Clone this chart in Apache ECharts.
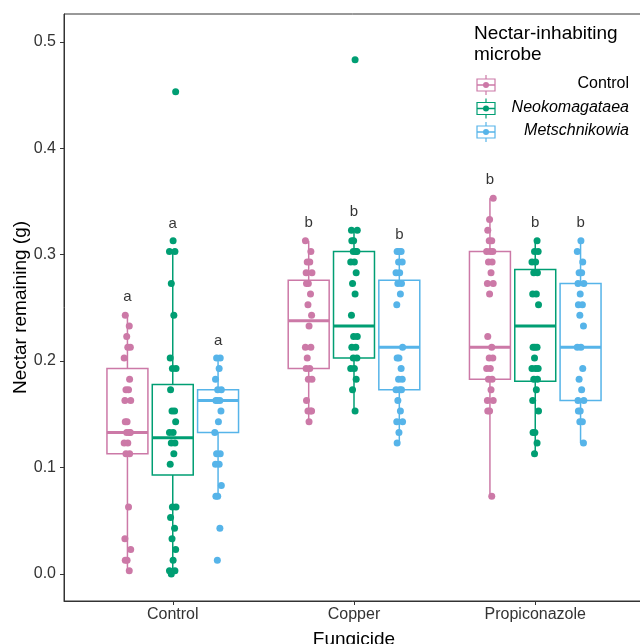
<!DOCTYPE html>
<html>
<head>
<meta charset="utf-8">
<title>Nectar remaining</title>
<script src="https://cdn.jsdelivr.net/npm/echarts@6/dist/echarts.min.js"></script>
<style>
  html, body { margin: 0; padding: 0; background: #fff; }
  #chart { width: 640px; height: 644px; }
</style>
</head>
<body>
<div id="chart"></div>
<script>
// 分类
const fungicides = ['Control', 'Copper', 'Propiconazole'];
const microbes = ['Control', 'Neokomagataea', 'Metschnikowia'];
const colors = ['#CC79A7', '#009E73', '#56B4E9'];
const yTicks = [0, 0.1, 0.2, 0.3, 0.4, 0.5];

// 观测值（按 fungicide x microbe）
const ctrlCtrl = [0.243, 0.233, 0.223, 0.213, 0.213, 0.203, 0.183, 0.173, 0.173, 0.163, 0.163, 0.143, 0.143, 0.133, 0.133, 0.133, 0.123, 0.123, 0.113, 0.113, 0.063, 0.033, 0.023, 0.013, 0.013, 0.003];
const ctrlNeo = [0.453, 0.313, 0.303, 0.303, 0.273, 0.243, 0.203, 0.193, 0.193, 0.173, 0.153, 0.153, 0.143, 0.133, 0.133, 0.123, 0.123, 0.113, 0.103, 0.063, 0.063, 0.053, 0.043, 0.033, 0.023, 0.013, 0.003, 0.003, 0.000];
const ctrlMet = [0.203, 0.203, 0.193, 0.183, 0.173, 0.173, 0.163, 0.163, 0.163, 0.153, 0.143, 0.133, 0.113, 0.113, 0.103, 0.103, 0.083, 0.073, 0.073, 0.043, 0.013];
const cuCtrl = [0.313, 0.303, 0.293, 0.293, 0.283, 0.283, 0.273, 0.273, 0.263, 0.253, 0.243, 0.233, 0.213, 0.213, 0.203, 0.193, 0.193, 0.183, 0.183, 0.163, 0.153, 0.153, 0.153, 0.143];
const cuNeo = [0.483, 0.323, 0.323, 0.313, 0.313, 0.303, 0.303, 0.303, 0.293, 0.293, 0.283, 0.273, 0.263, 0.243, 0.223, 0.223, 0.213, 0.213, 0.203, 0.203, 0.193, 0.193, 0.183, 0.173, 0.153];
const cuMet = [0.303, 0.303, 0.303, 0.293, 0.293, 0.283, 0.283, 0.273, 0.273, 0.263, 0.253, 0.213, 0.203, 0.203, 0.193, 0.183, 0.183, 0.173, 0.173, 0.173, 0.163, 0.153, 0.143, 0.143, 0.133, 0.123];
const prCtrl = [0.353, 0.333, 0.323, 0.313, 0.313, 0.303, 0.303, 0.303, 0.293, 0.293, 0.283, 0.273, 0.273, 0.263, 0.223, 0.213, 0.203, 0.203, 0.193, 0.193, 0.183, 0.183, 0.173, 0.163, 0.163, 0.153, 0.153, 0.073];
const prNeo = [0.313, 0.303, 0.303, 0.293, 0.293, 0.283, 0.283, 0.263, 0.263, 0.253, 0.213, 0.213, 0.213, 0.203, 0.193, 0.193, 0.193, 0.183, 0.183, 0.173, 0.163, 0.153, 0.133, 0.133, 0.123, 0.113];
const prMet = [0.313, 0.303, 0.293, 0.283, 0.283, 0.273, 0.273, 0.263, 0.253, 0.253, 0.243, 0.233, 0.213, 0.213, 0.193, 0.183, 0.173, 0.163, 0.163, 0.153, 0.153, 0.143, 0.143, 0.123];

// 箱线图统计 [下须, Q1, 中位数, Q3, 上须]
const boxCtrl = [[0.003, 0.113, 0.133, 0.193, 0.243], [0.000, 0.093, 0.128, 0.178, 0.303], [0.073, 0.133, 0.163, 0.173, 0.203]];
const boxCu = [[0.143, 0.193, 0.238, 0.276, 0.313], [0.153, 0.203, 0.233, 0.303, 0.323], [0.123, 0.173, 0.213, 0.276, 0.303]];
const boxPr = [[0.073, 0.183, 0.213, 0.303, 0.353], [0.113, 0.181, 0.233, 0.286, 0.313], [0.123, 0.163, 0.213, 0.273, 0.313]];

// 显著性字母及其高度
const letters = [['a', 'a', 'a'], ['b', 'b', 'b'], ['b', 'b', 'b']];
const letterY = [[0.260, 0.329, 0.219], [0.330, 0.340, 0.319], [0.370, 0.330, 0.330]];

const points = [[ctrlCtrl, ctrlNeo, ctrlMet], [cuCtrl, cuNeo, cuMet], [prCtrl, prNeo, prMet]];
const boxes = [boxCtrl, boxCu, boxPr];

const dodge = [-0.25, 0, 0.25];
const boxWidth = 0.226;
const jitter = [-0.012, 0.01, -0.004, 0.016, 0.002, -0.018, 0.012, -0.008, 0.006, -0.014, 0.018, -0.002];
const font = "'Liberation Sans', Arial, Helvetica, sans-serif";

const series = [];
microbes.forEach((m, mi) => {
  const color = colors[mi];
  series.push({
    name: m,
    type: 'custom',
    z: 1,
    renderItem: function (params, api) {
      const x = api.value(0);
      const low = api.coord([x, api.value(1)]);
      const q1 = api.coord([x, api.value(2)]);
      const med = api.coord([x, api.value(3)]);
      const q3 = api.coord([x, api.value(4)]);
      const high = api.coord([x, api.value(5)]);
      const w = api.size([boxWidth, 0])[0];
      const style = { stroke: color, lineWidth: 1.5, fill: null };
      return {
        type: 'group',
        children: [
          { type: 'line', shape: { x1: low[0], y1: low[1], x2: q1[0], y2: q1[1] }, style: style },
          { type: 'line', shape: { x1: q3[0], y1: q3[1], x2: high[0], y2: high[1] }, style: style },
          { type: 'rect', shape: { x: q3[0] - w / 2, y: q3[1], width: w, height: q1[1] - q3[1] }, style: style },
          { type: 'line', shape: { x1: med[0] - w / 2, y1: med[1], x2: med[0] + w / 2, y2: med[1] }, style: { stroke: color, lineWidth: 3 } }
        ]
      };
    },
    encode: { x: 0, y: [1, 2, 3, 4, 5] },
    data: fungicides.map((f, fi) => [fi + 1 + dodge[mi]].concat(boxes[fi][mi]))
  });

  const pts = [];
  fungicides.forEach((f, fi) => {
    points[fi][mi].forEach((v, i) => {
      pts.push([fi + 1 + dodge[mi] + jitter[(i + fi * 5 + mi * 3) % jitter.length], v]);
    });
  });
  series.push({
    name: m + ' points',
    type: 'scatter',
    z: 2,
    symbolSize: 7,
    itemStyle: { color: color, opacity: 1 },
    data: pts
  });
});

// 字母
const letterData = [];
fungicides.forEach((f, fi) => {
  microbes.forEach((m, mi) => {
    letterData.push({ name: letters[fi][mi], value: [fi + 1 + dodge[mi], letterY[fi][mi]] });
  });
});
series.push({
  type: 'scatter',
  z: 3,
  symbolSize: 0,
  silent: true,
  label: {
    show: true,
    position: 'inside',
    formatter: (p) => p.name,
    color: '#000',
    fontSize: 15,
    fontFamily: font
  },
  data: letterData
});

// 图例（仿 ggplot 键）
const legendItems = [];
legendItems.push({ type: 'text', left: 474, top: 24, style: { text: 'Nectar-inhabiting', fill: '#000', font: '19px ' + font } });
legendItems.push({ type: 'text', left: 474, top: 45, style: { text: 'microbe', fill: '#000', font: '19px ' + font } });
microbes.forEach((m, mi) => {
  const cy = 85 + mi * 23.5;
  const c = colors[mi];
  legendItems.push({ type: 'line', shape: { x1: 486, y1: cy - 10, x2: 486, y2: cy - 6 }, style: { stroke: c, lineWidth: 1.2 } });
  legendItems.push({ type: 'line', shape: { x1: 486, y1: cy + 6, x2: 486, y2: cy + 10 }, style: { stroke: c, lineWidth: 1.2 } });
  legendItems.push({ type: 'rect', shape: { x: 477, y: cy - 6, width: 18, height: 12 }, style: { stroke: c, lineWidth: 1.2, fill: '#fff' } });
  legendItems.push({ type: 'line', shape: { x1: 477, y1: cy, x2: 495, y2: cy }, style: { stroke: c, lineWidth: 1.5 } });
  legendItems.push({ type: 'circle', shape: { cx: 486, cy: cy, r: 3 }, style: { fill: c } });
  legendItems.push({
    type: 'text',
    right: 11,
    top: cy - 9,
    style: {
      text: m,
      fill: '#000',
      font: (mi > 0 ? 'italic ' : '') + '16px ' + font
    }
  });
});

const myChart = echarts.init(document.getElementById('chart'));
const option = {
  animation: false,
  grid: {
    left: 64,
    right: -4,
    top: 14,
    bottom: 43,
    containLabel: false,
    outerBoundsMode: 'none',
    show: true,
    borderColor: '#333',
    borderWidth: 1
  },
  xAxis: {
    type: 'value',
    min: 0.4,
    max: 3.6,
    name: 'Fungicide',
    nameLocation: 'middle',
    nameGap: 29,
    nameMoveOverlap: false,
    nameTextStyle: { color: '#000', fontSize: 19, fontFamily: font },
    splitLine: { show: false },
    axisLine: { show: true, onZero: false, lineStyle: { color: '#333', width: 1 } },
    axisTick: { show: true, length: 4, customValues: [1, 2, 3], lineStyle: { color: '#333' } },
    axisLabel: {
      customValues: [1, 2, 3],
      formatter: (v) => fungicides[Math.round(v) - 1] || '',
      color: '#333',
      fontSize: 16,
      fontFamily: font,
      margin: 6
    }
  },
  yAxis: {
    type: 'value',
    min: -0.0254,
    max: 0.5261,
    name: 'Nectar remaining (g)',
    nameLocation: 'middle',
    nameGap: 34,
    nameMoveOverlap: false,
    nameTextStyle: { color: '#000', fontSize: 19, fontFamily: font },
    splitLine: { show: false },
    axisLine: { show: true, onZero: false, lineStyle: { color: '#333', width: 1 } },
    axisTick: { show: true, length: 4, customValues: yTicks, lineStyle: { color: '#333' } },
    axisLabel: {
      customValues: yTicks,
      formatter: (v) => v.toFixed(1),
      color: '#333',
      fontSize: 16,
      fontFamily: font,
      margin: 8
    }
  },
  graphic: legendItems,
  series: series
};
myChart.setOption(option);
</script>
</body>
</html>
